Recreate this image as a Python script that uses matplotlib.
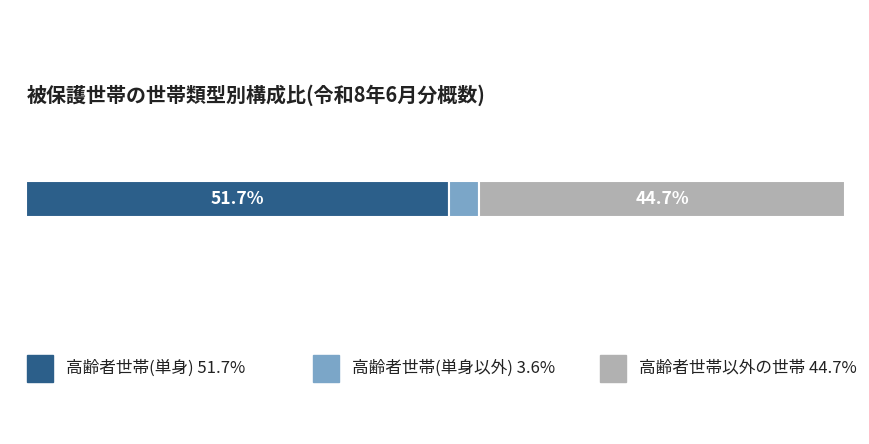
import matplotlib.pyplot as plt
from matplotlib.patches import Rectangle

plt.rcParams['font.family'] = ['Noto Sans CJK JP', 'DejaVu Sans']

# Data
title = "被保護世帯の世帯類型別構成比(令和8年6月分概数)"
categories = ["高齢者世帯(単身)", "高齢者世帯(単身以外)", "高齢者世帯以外の世帯"]
shares = [51.7, 3.6, 44.7]
colors = ["#2c5f8a", "#7ba6c8", "#b1b1b1"]
show_label = [True, False, True]

W, H = 870, 444
fig = plt.figure(figsize=(W / 100, H / 100), dpi=100)
fig.text(27 / W, 1 - 95 / H, title, fontsize=14.4, fontweight="bold",
         va="center", ha="left", color="#222222")

ax = fig.add_axes([26 / W, 1 - 217 / H, 819 / W, 36 / H])
left = 0
for val, col, lab in zip(shares, colors, show_label):
    ax.barh(0, val, left=left, color=col, height=1, edgecolor="white", linewidth=1.5)
    if lab:
        ax.text(left + val / 2, 0, f"{val}%", ha="center", va="center",
                color="white", fontsize=12.6, fontweight="bold")
    left += val
ax.set_xlim(0, sum(shares))
ax.set_ylim(-0.5, 0.5)
ax.axis("off")

# Legend
xs = [27, 313, 600]
for x, cat, val, col in zip(xs, categories, shares, colors):
    fig.patches.append(Rectangle((x / W, 1 - 382 / H), 26 / W, 27 / H,
                                 transform=fig.transFigure, color=col))
    fig.text((x + 39) / W, 1 - 368 / H, f"{cat} {val}%", fontsize=12,
             va="center", ha="left", color="#222222")

fig.savefig("out.png", dpi=100)
